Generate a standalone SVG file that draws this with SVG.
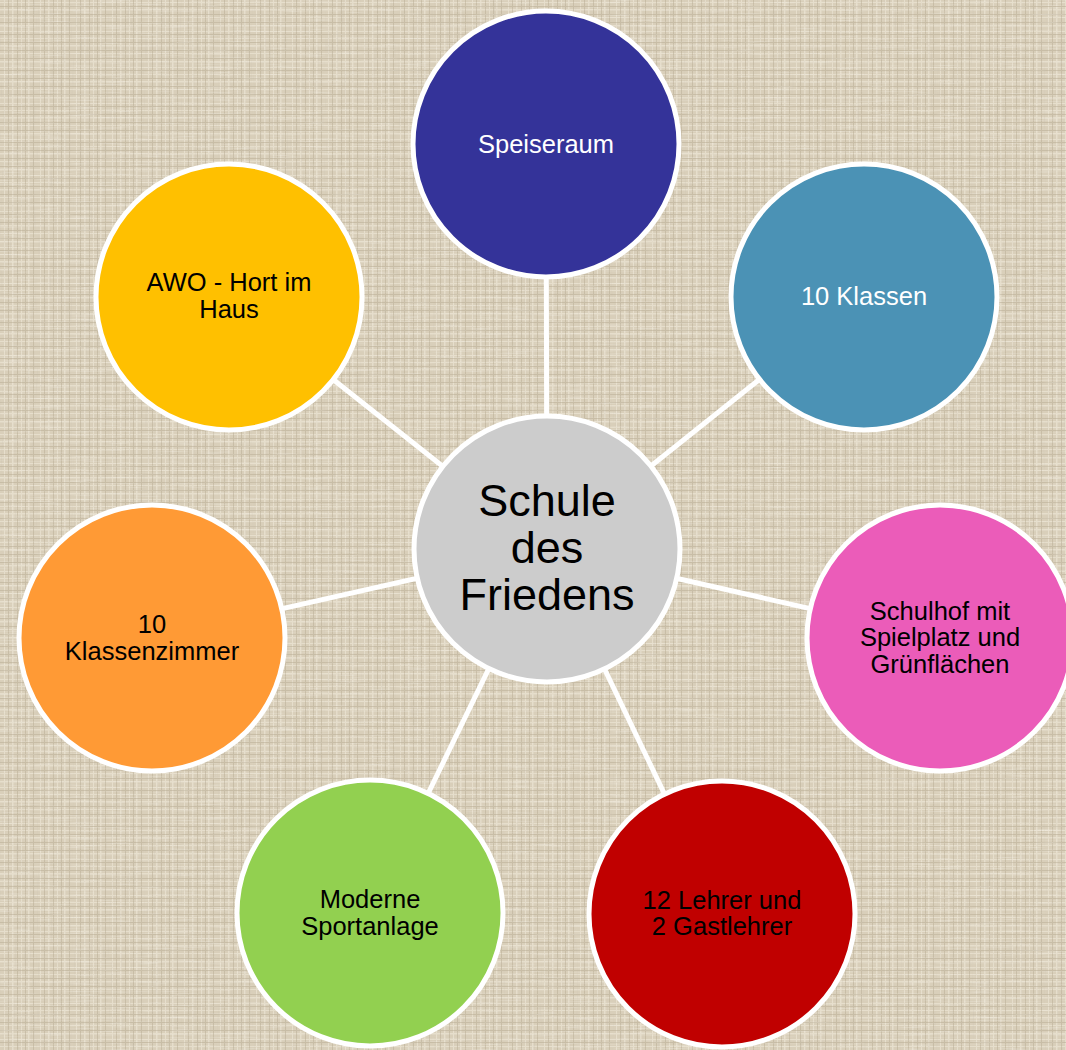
<svg xmlns="http://www.w3.org/2000/svg" width="1066" height="1050" viewBox="0 0 1066 1050">
<defs>
<pattern id="linen" width="36" height="36" patternUnits="userSpaceOnUse">
<rect width="36" height="36" fill="#D9CFBA"/>
<g fill="#EEE7D8" opacity="0.6">
<rect x="0" y="2" width="36" height="1"/><rect x="0" y="9" width="36" height="1.5"/><rect x="0" y="17" width="36" height="1"/><rect x="0" y="25" width="36" height="1.5"/><rect x="0" y="31" width="36" height="1"/>
<rect x="4" y="0" width="1" height="36"/><rect x="12" y="0" width="1.5" height="36"/><rect x="21" y="0" width="1" height="36"/><rect x="28" y="0" width="1.5" height="36"/>
</g>
<g fill="#B3A68E" opacity="0.45">
<rect x="0" y="6" width="36" height="1"/><rect x="0" y="14" width="36" height="1"/><rect x="0" y="22" width="36" height="1"/><rect x="0" y="34" width="36" height="1"/>
<rect x="8" y="0" width="1" height="36"/><rect x="17" y="0" width="1" height="36"/><rect x="25" y="0" width="1" height="36"/><rect x="33" y="0" width="1" height="36"/>
</g>
</pattern>
<filter id="streakH" x="0" y="0" width="100%" height="100%">
<feTurbulence type="fractalNoise" baseFrequency="0.03 0.7" numOctaves="2" seed="4"/>
<feColorMatrix type="matrix" values="0 0 0 0 0.96  0 0 0 0 0.94  0 0 0 0 0.88  1.4 0 0 0 -0.75"/>
</filter>
<filter id="streakV" x="0" y="0" width="100%" height="100%">
<feTurbulence type="fractalNoise" baseFrequency="0.7 0.03" numOctaves="2" seed="9"/>
<feColorMatrix type="matrix" values="0 0 0 0 0.55  0 0 0 0 0.5  0 0 0 0 0.42  1.4 0 0 0 -0.8"/>
</filter>
<style>
.node circle{stroke:#FFFFFF;stroke-width:5}
.t{font-family:"Liberation Sans",Arial,sans-serif;font-size:25.5px;text-anchor:middle;fill:#000}
.w{fill:#FFFFFF}
.c{font-family:"Liberation Sans",Arial,sans-serif;font-size:45px;text-anchor:middle;fill:#000}
#connectors line{stroke:#FFFFFF;stroke-width:5}
</style>
</defs>
<g id="background">
<rect width="1066" height="1050" fill="url(#linen)"/>
<rect width="1066" height="1050" filter="url(#streakH)" opacity="0.6"/>
<rect width="1066" height="1050" filter="url(#streakV)" opacity="0.5"/>
</g>
<g id="connectors">
<line x1="547" y1="549" x2="546" y2="144"/>
<line x1="547" y1="549" x2="864" y2="296"/>
<line x1="547" y1="549" x2="940" y2="638"/>
<line x1="547" y1="549" x2="722" y2="914"/>
<line x1="547" y1="549" x2="370" y2="913"/>
<line x1="547" y1="549" x2="152" y2="638"/>
<line x1="547" y1="549" x2="229" y2="297"/>
</g>
<g id="center" class="node">
<circle cx="547" cy="549" r="133" fill="#CCCCCC"/>
<text class="c" x="547" y="516">Schule</text>
<text class="c" x="547" y="563">des</text>
<text class="c" x="547" y="610">Friedens</text>
</g>
<g id="speiseraum" class="node">
<circle cx="546" cy="144" r="133" fill="#343399"/>
<text class="t w" x="546" y="153">Speiseraum</text>
</g>
<g id="klassen" class="node">
<circle cx="864" cy="297" r="133" fill="#4B92B5"/>
<text class="t w" x="864" y="305">10 Klassen</text>
</g>
<g id="schulhof" class="node">
<circle cx="940" cy="638" r="133" fill="#EB5CB9"/>
<text class="t" x="940" y="620">Schulhof mit</text>
<text class="t" x="940" y="646">Spielplatz und</text>
<text class="t" x="940" y="673">Grünflächen</text>
</g>
<g id="lehrer" class="node">
<circle cx="722" cy="914" r="133" fill="#C00000"/>
<text class="t" x="722" y="909">12 Lehrer und</text>
<text class="t" x="722" y="935">2 Gastlehrer</text>
</g>
<g id="sport" class="node">
<circle cx="370" cy="913" r="133" fill="#92D050"/>
<text class="t" x="370" y="908">Moderne</text>
<text class="t" x="370" y="935">Sportanlage</text>
</g>
<g id="klassenzimmer" class="node">
<circle cx="152" cy="638" r="133" fill="#FF9A35"/>
<text class="t" x="152" y="633">10</text>
<text class="t" x="152" y="660">Klassenzimmer</text>
</g>
<g id="hort" class="node">
<circle cx="229" cy="297" r="133" fill="#FFC000"/>
<text class="t" x="229" y="291">AWO - Hort im</text>
<text class="t" x="229" y="318">Haus</text>
</g>
</svg>
